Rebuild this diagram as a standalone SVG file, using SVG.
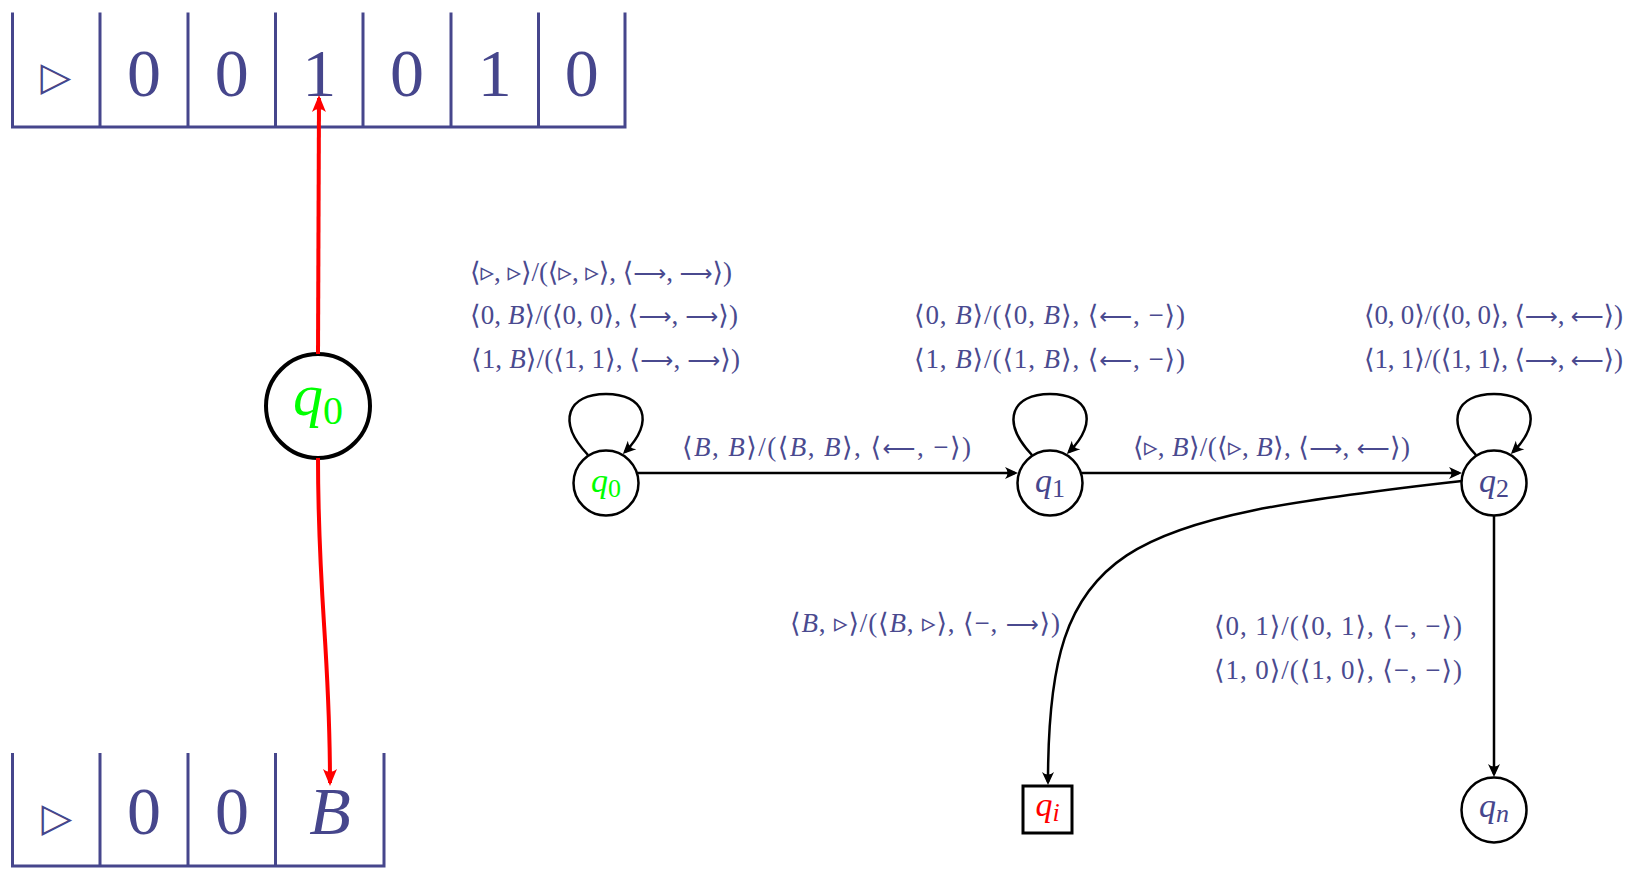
<svg xmlns="http://www.w3.org/2000/svg" width="1636" height="873" viewBox="0 0 1636 873">
<style>
.tape{stroke:#46468c;stroke-width:3;fill:none}
.sym{font-family:'Liberation Serif','DejaVu Serif',serif;font-size:68px;fill:#46468c;text-anchor:middle}
.tri{font-family:'DejaVu Sans',sans-serif;font-size:40px;fill:#46468c;text-anchor:middle}
.lbl{font-family:'Liberation Serif','DejaVu Serif','DejaVu Sans',serif;font-size:27px;fill:#4a4a8f}
.ar{font-family:'DejaVu Sans',sans-serif;font-size:23px}
.it{font-style:italic}
.st{fill:#fff;stroke:#000;stroke-width:2.5}
.nm{font-family:'Liberation Serif','DejaVu Serif',serif;font-style:italic;font-size:34px;text-anchor:middle;fill:#46468c}
.sub{font-style:normal;font-size:26px}
.edge{fill:none;stroke:#000;stroke-width:2.5;marker-end:url(#ah)}
.red{fill:none;stroke:#f00;stroke-width:4;marker-end:url(#rh)}
</style>
<defs>
<marker id="ah" viewBox="-16 -8 20 16" refX="-3" refY="0" markerWidth="20" markerHeight="16" markerUnits="userSpaceOnUse" orient="auto">
<path d="M0,0 L-13,-6 Q-8,0 -13,6 Z" fill="#000"/>
</marker>
<marker id="rh" viewBox="-20 -10 24 20" refX="-3" refY="0" markerWidth="24" markerHeight="20" markerUnits="userSpaceOnUse" orient="auto">
<path d="M0,0 L-17,-7 Q-11,0 -17,7 Z" fill="#f00"/>
</marker>
</defs>

<g id="tape-top">
<path class="tape" d="M12.5,12.5 V127 M100,12.5 V127 M188,12.5 V127 M275.5,12.5 V127 M363,12.5 V127 M451,12.5 V127 M538.5,12.5 V127 M625,12.5 V127 M11,127 H626.5"/>
<text class="tri" x="56" y="90">▷</text>
<text class="sym" x="144" y="96">0</text>
<text class="sym" x="231.8" y="96">0</text>
<text class="sym" x="319.3" y="96">1</text>
<text class="sym" x="407" y="96">0</text>
<text class="sym" x="494.8" y="96">1</text>
<text class="sym" x="581.8" y="96">0</text>
</g>

<g id="tape-bottom">
<path class="tape" d="M12.5,753 V866 M100,753 V866 M188,753 V866 M275.5,753 V866 M384,753 V866 M11,866 H385.5"/>
<text class="tri" x="57" y="831">▷</text>
<text class="sym" x="144" y="834">0</text>
<text class="sym" x="232" y="834">0</text>
<text class="sym it" x="330" y="834">B</text>
</g>

<g id="head-q0">
<circle cx="318" cy="406" r="52" fill="#fff" stroke="#000" stroke-width="4"/>
<text class="nm" x="318" y="415" style="font-size:60px;fill:#00ff00">q<tspan class="sub" style="font-size:40px" dy="9">0</tspan></text>
</g>

<g id="connectors">
<path class="red" d="M318,354 L319,98"/>
<path class="red" d="M318,458 C318,600 330,650 330,783"/>
<path class="edge" d="M588,455 C556,421 568,394 606,394 C644,394 656,421 625,452"/>
<path class="edge" d="M1032,455 C1000,421 1012,394 1050,394 C1088,394 1100,421 1069,452"/>
<path class="edge" d="M1476,455 C1444,421 1456,394 1494,394 C1532,394 1544,421 1513,452"/>
<path class="edge" d="M637,473 H1015"/>
<path class="edge" d="M1081,473 H1459"/>
<path class="edge" d="M1462,481 C1120,520 1048,540 1048,782"/>
<path class="edge" d="M1494,516 V774"/>
</g>

<g id="labels">
<text class="lbl" x="470" y="281" textLength="262">⟨▹, ▹⟩/(⟨▹, ▹⟩, ⟨<tspan class="ar">⟶</tspan>, <tspan class="ar">⟶</tspan>⟩)</text>
<text class="lbl" x="470" y="324" textLength="268">⟨0, <tspan class="it">B</tspan>⟩/(⟨0, 0⟩, ⟨<tspan class="ar">⟶</tspan>, <tspan class="ar">⟶</tspan>⟩)</text>
<text class="lbl" x="471" y="368" textLength="269">⟨1, <tspan class="it">B</tspan>⟩/(⟨1, 1⟩, ⟨<tspan class="ar">⟶</tspan>, <tspan class="ar">⟶</tspan>⟩)</text>
<text class="lbl" x="914" y="324" textLength="271">⟨0, <tspan class="it">B</tspan>⟩/(⟨0, <tspan class="it">B</tspan>⟩, ⟨<tspan class="ar">⟵</tspan>, −⟩)</text>
<text class="lbl" x="914" y="368" textLength="271">⟨1, <tspan class="it">B</tspan>⟩/(⟨1, <tspan class="it">B</tspan>⟩, ⟨<tspan class="ar">⟵</tspan>, −⟩)</text>
<text class="lbl" x="1364" y="324" textLength="259">⟨0, 0⟩/(⟨0, 0⟩, ⟨<tspan class="ar">⟶</tspan>, <tspan class="ar">⟵</tspan>⟩)</text>
<text class="lbl" x="1364" y="368" textLength="259">⟨1, 1⟩/(⟨1, 1⟩, ⟨<tspan class="ar">⟶</tspan>, <tspan class="ar">⟵</tspan>⟩)</text>
<text class="lbl" x="682" y="456" textLength="289">⟨<tspan class="it">B</tspan>, <tspan class="it">B</tspan>⟩/(⟨<tspan class="it">B</tspan>, <tspan class="it">B</tspan>⟩, ⟨<tspan class="ar">⟵</tspan>, −⟩)</text>
<text class="lbl" x="1133" y="456" textLength="277">⟨▹, <tspan class="it">B</tspan>⟩/(⟨▹, <tspan class="it">B</tspan>⟩, ⟨<tspan class="ar">⟶</tspan>, <tspan class="ar">⟵</tspan>⟩)</text>
<text class="lbl" x="790" y="632" textLength="270">⟨<tspan class="it">B</tspan>, ▹⟩/(⟨<tspan class="it">B</tspan>, ▹⟩, ⟨−, <tspan class="ar">⟶</tspan>⟩)</text>
<text class="lbl" x="1214" y="635" textLength="248">⟨0, 1⟩/(⟨0, 1⟩, ⟨−, −⟩)</text>
<text class="lbl" x="1214" y="679" textLength="248">⟨1, 0⟩/(⟨1, 0⟩, ⟨−, −⟩)</text>
</g>

<g id="q0">
<circle class="st" cx="606" cy="483" r="32.5"/>
<text class="nm" x="606" y="492" style="fill:#00ff00">q<tspan class="sub" dy="5">0</tspan></text>
</g>
<g id="q1">
<circle class="st" cx="1050" cy="483" r="32.5"/>
<text class="nm" x="1050" y="492">q<tspan class="sub" dy="5">1</tspan></text>
</g>
<g id="q2">
<circle class="st" cx="1494" cy="483" r="32.5"/>
<text class="nm" x="1494" y="492">q<tspan class="sub" dy="5">2</tspan></text>
</g>
<g id="qi">
<rect x="1023" y="786" width="49" height="47" fill="#fff" stroke="#000" stroke-width="3"/>
<text class="nm" x="1047.5" y="816" style="fill:#ff0000">q<tspan class="sub" style="font-style:italic" dy="5">i</tspan></text>
</g>
<g id="qn">
<circle class="st" cx="1494" cy="810" r="32.5"/>
<text class="nm" x="1494" y="817">q<tspan class="sub" style="font-style:italic" dy="5">n</tspan></text>
</g>
</svg>
